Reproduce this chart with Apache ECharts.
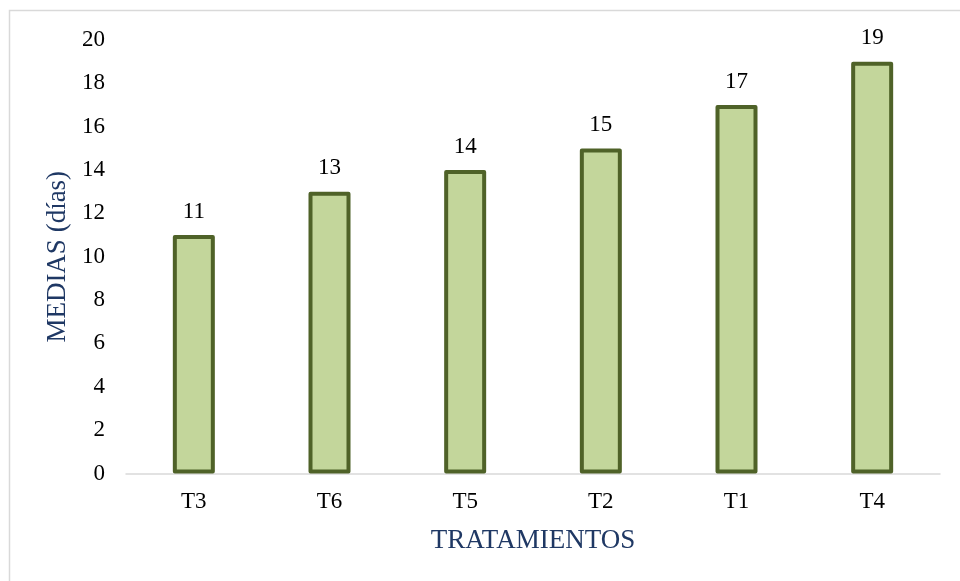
<!DOCTYPE html>
<html>
<head>
<meta charset="utf-8">
<script src="https://cdn.jsdelivr.net/npm/echarts@6/dist/echarts.min.js"></script>
<style>
  html, body { margin: 0; padding: 0; background: #ffffff; }
  #chart { width: 960px; height: 581px; }
</style>
</head>
<body>
<div id="chart"></div>
<script>
// Mean days per treatment
const categories = ['T3', 'T6', 'T5', 'T2', 'T1', 'T4'];
const medias = [11, 13, 14, 15, 17, 19];
const yTicks = { min: 0, max: 20, interval: 2 };

const serif = '"Liberation Serif", "Times New Roman", serif';
const chart = echarts.init(document.getElementById('chart'));

chart.setOption({
  animation: false,
  backgroundColor: '#ffffff',
  graphic: [{
    type: 'rect',
    shape: { x: 9.5, y: 10.5, width: 1000, height: 600 },
    style: { fill: 'none', stroke: '#d9d9d9', lineWidth: 1.5 },
    silent: true
  }],
  grid: { left: 126, right: 20, top: 40, bottom: 107.5 },
  xAxis: {
    type: 'category',
    data: categories,
    name: 'TRATAMIENTOS',
    nameLocation: 'middle',
    nameGap: 54,
    nameTextStyle: { fontFamily: serif, fontSize: 27, color: '#1f3864' },
    axisLine: { lineStyle: { color: '#d9d9d9', width: 1.5 } },
    axisTick: { show: false },
    axisLabel: { fontFamily: serif, fontSize: 23, color: '#000000', margin: 17 }
  },
  yAxis: {
    type: 'value',
    min: yTicks.min,
    max: yTicks.max,
    interval: yTicks.interval,
    name: 'MEDIAS (días)',
    nameLocation: 'middle',
    nameGap: 52,
    nameRotate: 90,
    nameTextStyle: { fontFamily: serif, fontSize: 27, color: '#1f3864' },
    axisLine: { show: false },
    axisTick: { show: false },
    splitLine: { show: false },
    axisLabel: { fontFamily: serif, fontSize: 23, color: '#000000', margin: 21 }
  },
  series: [{
    type: 'bar',
    data: medias,
    barWidth: 42,
    itemStyle: { color: '#c3d69b', borderColor: '#4f6228', borderWidth: 4, borderJoin: 'round' },
    label: {
      show: true,
      position: 'top',
      distance: 12,
      fontFamily: serif,
      fontSize: 23,
      color: '#000000'
    }
  }]
});
</script>
</body>
</html>
